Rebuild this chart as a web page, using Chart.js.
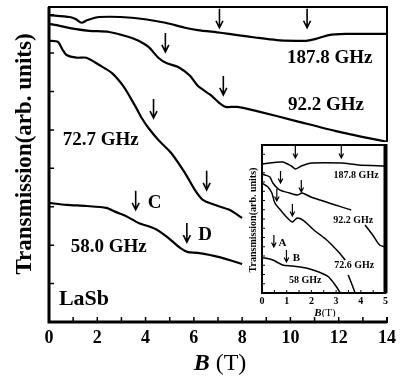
<!DOCTYPE html>
<html>
<head>
<meta charset="utf-8">
<script src="https://cdn.jsdelivr.net/npm/chart.js@4.4.1/dist/chart.umd.min.js"></script>
<style>
  body { margin: 0; background: #fff; }
  #wrap { position: relative; width: 402px; height: 386px; }
  #inset { position: absolute; left: 246px; top: 142px; background: #fff; }
</style>
</head>
<body>
<div id="wrap">
  <canvas id="main" width="402" height="386"></canvas>
  <canvas id="inset" width="144" height="175"></canvas>
</div>
<script>
// transmission traces, field B in tesla
const b1878 = [0, 0.86, 1.1, 1.35, 1.59, 2.08, 3.43, 4.82, 5.63, 6.16, 7.10, 7.80, 8.61, 9.43, 10.24, 10.65, 11.06, 11.59, 12.29, 13.10, 14.0];
const t1878 = [7.99, 7.94, 7.89, 7.79, 7.86, 7.94, 7.92, 7.79, 7.66, 7.60, 7.53, 7.47, 7.40, 7.34, 7.32, 7.32, 7.37, 7.47, 7.50, 7.50, 7.50];

const b922 = [0, 0.45, 1.06, 1.67, 2.49, 3.31, 3.71, 4.12, 4.53, 4.86, 5.35, 5.84, 6.16, 6.69, 7.06, 7.31, 7.80, 8.61, 10.24, 11.88, 14.0];
const t922 = [7.76, 7.71, 7.63, 7.58, 7.55, 7.42, 7.32, 7.16, 6.88, 6.74, 6.64, 6.41, 6.15, 5.91, 5.70, 5.60, 5.60, 5.49, 5.23, 4.97, 4.69];

const b727 = [0, 0.37, 0.57, 0.73, 1.14, 1.55, 2.08, 2.61, 3.10, 3.59, 3.84, 4.12, 4.53, 5.06, 5.63, 6.04, 6.37, 6.86, 7.47, 8.0];
const t727 = [7.32, 7.29, 7.08, 6.95, 6.88, 6.88, 6.69, 6.48, 6.12, 5.60, 5.31, 5.05, 4.74, 4.40, 3.88, 3.44, 3.18, 3.05, 2.92, 2.71];

const b580 = [0, 0.73, 1.55, 2.37, 2.78, 3.18, 3.71, 4.41, 4.94, 5.43, 5.76, 6.16, 7.06, 8.0];
const t580 = [3.10, 3.05, 3.02, 2.97, 2.86, 2.76, 2.58, 2.42, 2.19, 1.93, 1.82, 1.80, 1.69, 1.51];

// resonance arrows (field, tip height)
const arrowB = [7.06, 10.69, 4.82, 7.22, 4.33, 6.53, 3.59, 5.71];
const arrowT = [7.66, 7.66, 7.03, 5.91, 5.31, 3.44, 2.92, 2.08];

const xTicks = [0, 2, 4, 6, 8, 10, 12, 14];

// low field inset (0-5 T)
const ib1878 = [0, 0.83, 1.19, 1.35, 1.59, 2.02, 3.21, 3.89, 5.0];
const it1878 = [13.95, 14.16, 13.73, 13.41, 13.73, 14.05, 14.05, 13.84, 13.73];

const ib922 = [0, 0.12, 0.32, 0.44, 0.71, 1.11, 1.43, 1.63, 1.98, 3.61, 3.9, 4.17, 4.48, 4.76, 5.0];
const it922 = [12.86, 12.76, 12.54, 11.89, 11.14, 10.81, 10.59, 10.81, 10.38, 8.97, null, 7.35, 6.27, 5.19, 4.97];

const ib726 = [0, 0.24, 0.40, 0.52, 0.75, 1.03, 1.23, 1.43, 1.71, 2.10, 2.62, 3.10, 3.37, 3.43, 3.49, 3.65, 3.77];
const it726 = [11.89, 11.46, 10.81, 9.73, 8.97, 8.11, 7.68, 8.11, 7.78, 6.81, 5.73, 4.43, 3.57, null, 1.95, 0.86, 0];

const ib58 = [0, 0.12, 0.44, 0.83, 1.23, 1.79, 2.30, 2.70, 3.02, 3.17];
const it58 = [3.78, 3.78, 3.57, 3.03, 2.92, 2.70, 2.27, 1.73, 0.65, 0];

const iArrowB = [1.35, 3.21, 0.75, 1.59, 0.6, 1.23, 0.48, 0.99];
const iArrowT = [14.59, 14.59, 11.89, 10.92, 9.95, 8.32, 4.97, 3.35];

const iTicks = [0, 1, 2, 3, 4, 5];

const serif = "'Liberation Serif', 'Times New Roman', serif";

function pts(bs, ts) {
  return bs.map((b, i) => ({ x: b, y: ts[i] }));
}

function trace(bs, ts, w) {
  return {
    data: pts(bs, ts),
    borderColor: '#000',
    borderWidth: w,
    pointRadius: 0,
    tension: 0.25,
    spanGaps: false,
    fill: false
  };
}

function arrow(ctx, x, y, len, head, hw) {
  ctx.beginPath();
  ctx.moveTo(x, y - len);
  ctx.lineTo(x, y);
  ctx.moveTo(x - hw, y - head);
  ctx.lineTo(x, y);
  ctx.lineTo(x + hw, y - head);
  ctx.stroke();
}

function text(ctx, str, x, y, font, align) {
  ctx.font = font;
  ctx.textAlign = align || 'center';
  ctx.textBaseline = 'middle';
  ctx.fillText(str, x, y);
}

// frame, inward ticks, arrows and labels of the main panel
const mainDeco = {
  id: 'mainDeco',
  afterDraw(chart) {
    const { ctx, chartArea: a, scales: { x, y } } = chart;
    ctx.save();
    ctx.strokeStyle = '#000';
    ctx.fillStyle = '#000';
    ctx.lineWidth = 2;
    ctx.strokeRect(a.left, a.top, a.right - a.left, a.bottom - a.top);
    ctx.lineWidth = 3;
    ctx.beginPath();
    ctx.moveTo(a.left, a.top);
    ctx.lineTo(a.left, a.bottom);
    ctx.lineTo(a.right, a.bottom);
    ctx.stroke();

    ctx.lineWidth = 1.5;
    ctx.beginPath();
    for (let v = 1; v < 14; v++) {
      const px = x.getPixelForValue(v);
      ctx.moveTo(px, a.bottom);
      ctx.lineTo(px, a.bottom - 5);
    }
    for (let v = 1; v <= 8; v++) {
      const py = y.getPixelForValue(v);
      ctx.moveTo(a.left, py);
      ctx.lineTo(a.left + 5, py);
    }
    ctx.stroke();

    ctx.lineWidth = 1.6;
    arrowB.forEach((b, i) => {
      arrow(ctx, x.getPixelForValue(b), y.getPixelForValue(arrowT[i]), 19, 7, 3.5);
    });

    const lab = 'bold 19px ' + serif;
    text(ctx, '187.8 GHz', x.getPixelForValue(11.63), y.getPixelForValue(6.87), lab);
    text(ctx, '92.2 GHz', x.getPixelForValue(11.47), y.getPixelForValue(5.65), lab);
    text(ctx, '72.7 GHz', x.getPixelForValue(2.14), y.getPixelForValue(4.74), lab);
    text(ctx, '58.0 GHz', x.getPixelForValue(2.47), y.getPixelForValue(1.95), lab);
    text(ctx, 'C', x.getPixelForValue(4.37), y.getPixelForValue(3.10), lab);
    text(ctx, 'D', x.getPixelForValue(6.47), y.getPixelForValue(2.27), lab);
    text(ctx, 'LaSb', x.getPixelForValue(0.41), y.getPixelForValue(0.6), 'bold 22px ' + serif, 'left');

    // axis titles
    ctx.save();
    ctx.translate(25, 154);
    ctx.rotate(-Math.PI / 2);
    text(ctx, 'Transmission(arb. units)', 0, 0, 'bold 23px ' + serif);
    ctx.restore();

    const fb = 'italic bold 24px ' + serif;
    const ft = '24px ' + serif;
    ctx.font = fb;
    const wb = ctx.measureText('B').width;
    ctx.font = ft;
    const wt = ctx.measureText(' (T)').width;
    const x0 = 220 - (wb + wt) / 2;
    text(ctx, 'B', x0, 364, fb, 'left');
    text(ctx, ' (T)', x0 + wb, 364, ft, 'left');
    ctx.restore();
  }
};

new Chart(document.getElementById('main'), {
  type: 'line',
  data: {
    datasets: [
      trace(b1878, t1878, 2.2),
      trace(b922, t922, 2.2),
      trace(b727, t727, 2.2),
      trace(b580, t580, 2.2)
    ]
  },
  options: {
    responsive: false,
    animation: false,
    devicePixelRatio: 1,
    layout: { padding: { top: 7, right: 10, left: 0, bottom: 0 } },
    plugins: { legend: { display: false }, tooltip: { enabled: false } },
    scales: {
      x: {
        type: 'linear',
        min: 0,
        max: 14,
        afterFit(s) { s.height = 64; },
        afterBuildTicks(s) { s.ticks = xTicks.map(v => ({ value: v })); },
        grid: { display: false, drawTicks: false },
        border: { display: false },
        ticks: { padding: 6, color: '#000', font: { family: serif, size: 18, weight: 'bold' } }
      },
      y: {
        type: 'linear',
        min: 0,
        max: 8.2,
        afterFit(s) { s.width = 49; },
        grid: { display: false, drawTicks: false },
        border: { display: false },
        ticks: { display: false }
      }
    }
  },
  plugins: [mainDeco]
});

// inset frame, ticks, arrows and labels
const insetDeco = {
  id: 'insetDeco',
  afterDraw(chart) {
    const { ctx, chartArea: a, scales: { x, y } } = chart;
    ctx.save();
    ctx.strokeStyle = '#000';
    ctx.fillStyle = '#000';
    ctx.lineWidth = 2;
    ctx.strokeRect(a.left, a.top, a.right - a.left, a.bottom - a.top);
    ctx.lineWidth = 4;
    ctx.beginPath();
    ctx.moveTo(a.right, a.top - 1);
    ctx.lineTo(a.right, a.bottom);
    ctx.stroke();

    ctx.lineWidth = 1;
    ctx.beginPath();
    for (let v = 1; v < 16; v++) {
      const py = y.getPixelForValue(v);
      ctx.moveTo(a.left, py);
      ctx.lineTo(a.left + 3, py);
    }
    for (let v = 0.5; v < 5; v += 0.5) {
      const px = x.getPixelForValue(v);
      ctx.moveTo(px, a.bottom);
      ctx.lineTo(px, a.bottom - 3);
    }
    ctx.stroke();

    ctx.lineWidth = 1.2;
    iArrowB.forEach((b, i) => {
      arrow(ctx, x.getPixelForValue(b), y.getPixelForValue(iArrowT[i]), 12, 4.5, 2.3);
    });

    const lab = 'bold 10px ' + serif;
    text(ctx, '187.8 GHz', x.getPixelForValue(3.81), y.getPixelForValue(12.76), lab);
    text(ctx, '92.2 GHz', x.getPixelForValue(3.69), y.getPixelForValue(7.89), lab);
    text(ctx, '72.6 GHz', x.getPixelForValue(3.73), y.getPixelForValue(3.03), lab);
    text(ctx, '58 GHz', x.getPixelForValue(1.75), y.getPixelForValue(1.41), lab);
    text(ctx, 'A', x.getPixelForValue(0.83), y.getPixelForValue(5.41), 'bold 11px ' + serif);
    text(ctx, 'B', x.getPixelForValue(1.39), y.getPixelForValue(3.78), 'bold 11px ' + serif);

    ctx.save();
    ctx.translate(7, 78);
    ctx.rotate(-Math.PI / 2);
    text(ctx, 'Transmission(arb. units)', 0, 0, 'bold 10px ' + serif);
    ctx.restore();

    const fb = 'italic bold 11px ' + serif;
    const ft = '11px ' + serif;
    ctx.font = fb;
    const wb = ctx.measureText('B').width;
    ctx.font = ft;
    const wt = ctx.measureText('(T)').width;
    const x0 = 79 - (wb + wt) / 2;
    text(ctx, 'B', x0, 171, fb, 'left');
    text(ctx, '(T)', x0 + wb, 171, ft, 'left');
    ctx.restore();
  }
};

new Chart(document.getElementById('inset'), {
  type: 'line',
  data: {
    datasets: [
      trace(ib1878, it1878, 1.5),
      trace(ib922, it922, 1.5),
      trace(ib726, it726, 1.5),
      trace(ib58, it58, 1.5)
    ]
  },
  options: {
    responsive: false,
    animation: false,
    devicePixelRatio: 1,
    layout: { padding: { top: 3, right: 2, left: 0, bottom: 0 } },
    plugins: { legend: { display: false }, tooltip: { enabled: false } },
    scales: {
      x: {
        type: 'linear',
        min: 0,
        max: 5,
        afterFit(s) { s.height = 24; },
        afterBuildTicks(s) { s.ticks = iTicks.map(v => ({ value: v })); },
        grid: { display: false, drawTicks: false },
        border: { display: false },
        ticks: { padding: 2, color: '#000', font: { family: serif, size: 10, weight: 'bold' } }
      },
      y: {
        type: 'linear',
        min: 0,
        max: 16,
        afterFit(s) { s.width = 16; },
        grid: { display: false, drawTicks: false },
        border: { display: false },
        ticks: { display: false }
      }
    }
  },
  plugins: [insetDeco]
});
</script>
</body>
</html>
